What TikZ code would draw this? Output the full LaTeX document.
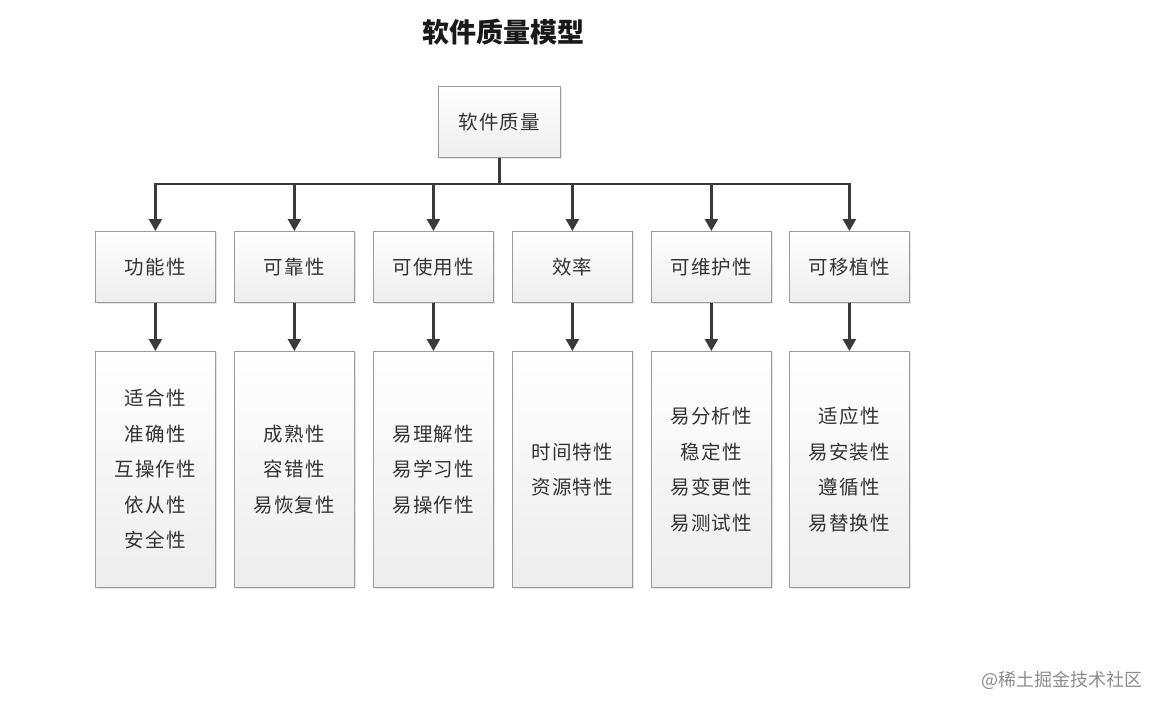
\documentclass[tikz,border=0pt]{standalone}
\usepackage{fontspec}
\newfontfamily\cjk{Noto Sans CJK SC}
\newfontfamily\cjkw[LetterSpace=6]{Noto Sans CJK SC}
\usetikzlibrary{arrows.meta,shadows}
\definecolor{txt}{HTML}{333333}
\definecolor{arr}{HTML}{3A3A3A}
\definecolor{bord}{HTML}{9A9A9A}
\tikzset{
  qbox/.style={draw=bord, line width=0.8pt, top color=white, bottom color=black!7,
    drop shadow={shadow xshift=1.5pt, shadow yshift=-1.5pt, opacity=0.25, fill=black!40},
    text=txt, font=\cjkw\fontsize{19.5}{35.5}\selectfont, align=center,
    inner sep=0pt, anchor=north west},
  conn/.style={draw=arr, line width=2.4pt, -{Triangle[width=13pt,length=12pt]}},
  bus/.style={draw=arr, line width=2.4pt}
}
\begin{document}
\begin{tikzpicture}[x=1pt,y=-1pt]
\useasboundingbox[fill=white] (0,0) rectangle (1160,702);
\node[text=black!90, font=\cjk\bfseries\fontsize{27}{30}\selectfont] (title) at (503,32) {软件质量模型};
\node[qbox, minimum width=122pt, minimum height=71pt] (root) at (438,86) {软件质量};
% level 2
\foreach \n/\x/\t in {a/95/功能性, b/234/可靠性, c/373/可使用性, d/512/效率, e/651/可维护性, f/789/可移植性}{
  \node[qbox, minimum width=120pt, minimum height=71pt] (\n) at (\x,231) {\t};
}
% level 3
\node[qbox, minimum width=120pt, minimum height=236pt] (a3) at (95,351) {适合性\\准确性\\互操作性\\依从性\\安全性};
\node[qbox, minimum width=120pt, minimum height=236pt] (b3) at (234,351) {成熟性\\容错性\\易恢复性};
\node[qbox, minimum width=120pt, minimum height=236pt] (c3) at (373,351) {易理解性\\易学习性\\易操作性};
\node[qbox, minimum width=120pt, minimum height=236pt] (d3) at (512,351) {时间特性\\资源特性};
\node[qbox, minimum width=120pt, minimum height=236pt] (e3) at (651,351) {易分析性\\稳定性\\易变更性\\易测试性};
\node[qbox, minimum width=120pt, minimum height=236pt] (f3) at (789,351) {适应性\\易安装性\\遵循性\\易替换性};
% bus
\coordinate (busc) at (root.south |- 0,184);
\coordinate (busl) at (a.north |- 0,184);
\coordinate (busr) at (f.north |- 0,184);
\draw[bus] (root.south) -- (busc);
\draw[bus, line cap=rect] (busl) -- (busr);
\foreach \n in {a,b,c,d,e,f}{
  \draw[conn] (\n.north |- busc) -- (\n.north);
  \draw[conn] (\n.south) -- (\n3.north);
}
\node[text=black!45, font=\cjk\fontsize{18}{20}\selectfont, anchor=east] (wm) at (1146,680) {@稀土掘金技术社区};
\end{tikzpicture}
\end{document}
